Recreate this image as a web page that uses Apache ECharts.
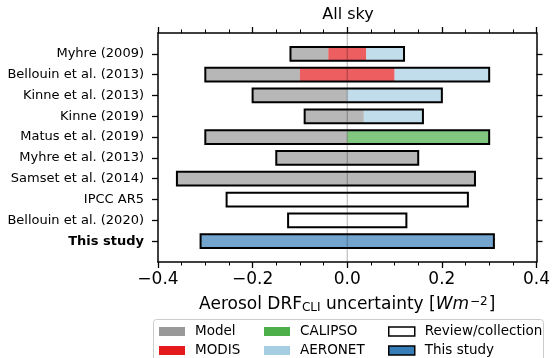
<!DOCTYPE html>
<html>
<head>
<meta charset="utf-8">
<script src="https://cdn.jsdelivr.net/npm/echarts@6/dist/echarts.min.js"></script>
<style>
html,body{margin:0;padding:0;background:#fff;}
#c{width:553px;height:358px;}
</style>
</head>
<body>
<div id="c"></div>
<script>
// ---- data ----
const categories = ['Myhre (2009)', 'Bellouin et al. (2013)', 'Kinne et al. (2013)', 'Kinne (2019)',
  'Matus et al. (2019)', 'Myhre et al. (2013)', 'Samset et al. (2014)', 'IPCC AR5',
  'Bellouin et al. (2020)', 'This study'];
// overall uncertainty range per study
const rangeLow  = [-0.12, -0.30, -0.20, -0.09, -0.30, -0.15, -0.36, -0.255, -0.125, -0.31];
const rangeHigh = [ 0.12,  0.30,  0.20,  0.16,  0.30,  0.15,  0.27,  0.255,  0.125,  0.31];
// contributions: [row, start, end]
const modelSeg   = [[0, -0.12, -0.04], [1, -0.30, -0.10], [2, -0.20, 0.0], [3, -0.09, 0.035],
                    [4, -0.30, 0.0], [5, -0.15, 0.15], [6, -0.36, 0.27]];
const modisSeg   = [[0, -0.04, 0.04], [1, -0.10, 0.10]];
const calipsoSeg = [[4, 0.0, 0.30]];
const aeronetSeg = [[0, 0.04, 0.12], [1, 0.10, 0.30], [2, 0.0, 0.20], [3, 0.035, 0.16]];
const reviewSeg  = [[7, -0.255, 0.255], [8, -0.125, 0.125]];
const studySeg   = [[9, -0.31, 0.31]];
const xTicks = [-0.4, -0.2, 0.0, 0.2, 0.4];

// ---- build ----
const yCats = [''].concat(categories, ['']);
const FONT = 'DejaVu Sans';
const BAR = 0.66;

function toData(seg) { return seg.map(s => [s[0] + 1, s[1], s[2]]); }

function segRender(fill, stroke, lw) {
  return function (params, api) {
    const a = api.coord([api.value(1), api.value(0)]);
    const b = api.coord([api.value(2), api.value(0)]);
    const c1 = api.coord([0, 1]);
    const c2 = api.coord([0, 2]);
    const h = Math.abs(c2[1] - c1[1]) * BAR;
    return {
      type: 'rect',
      shape: { x: a[0], y: a[1] - h / 2, width: b[0] - a[0], height: h },
      style: { fill: fill, stroke: stroke, lineWidth: lw }
    };
  };
}

function segSeries(name, seg, fill, legendColor, z) {
  return {
    type: 'custom', name: name, data: toData(seg),
    encode: { x: [1, 2], y: 0 },
    itemStyle: { color: legendColor },
    renderItem: segRender(fill, 'none', 0),
    z: z, silent: true
  };
}

const rangeData = rangeLow.map((l, i) => [i + 1, l, rangeHigh[i]]);

const legendDefs = [
  { name: 'Model', left: 159, top: 324, color: '#999999', border: null },
  { name: 'MODIS', left: 159, top: 343, color: '#e41a1c', border: null },
  { name: 'CALIPSO', left: 264, top: 324, color: '#4daf4a', border: null },
  { name: 'AERONET', left: 264, top: 343, color: '#a6cee3', border: null },
  { name: 'Review/collection', left: 388, top: 324, color: '#ffffff', border: '#000' },
  { name: 'This study', left: 388, top: 343, color: '#377eb8', border: '#000' }
];

const option = {
  animation: false,
  backgroundColor: '#fff',
  textStyle: { fontFamily: FONT },
  grid: { left: 158, right: 15, top: 33, bottom: 96, containLabel: false },
  xAxis: [{
    type: 'value', min: -0.4, max: 0.4, interval: 0.2, position: 'bottom',
    axisLine: { show: true, onZero: false, lineStyle: { color: '#000', width: 1.5 } },
    axisTick: { show: true, length: 6, lineStyle: { color: '#000', width: 1.3 } },
    minorTick: { show: true, splitNumber: 4, length: 3.5, lineStyle: { color: '#000', width: 1 } },
    splitLine: { show: false },
    axisLabel: {
      fontFamily: FONT, fontSize: 17, color: '#000', margin: 9,
      formatter: v => { const s = Math.abs(v).toFixed(1); return v < -1e-9 ? '\u2212' + s : s; }
    },
    name: '{a|Aerosol DRF}{s|CLI}{a| uncertainty [}{i|Wm}{p|\u22122}{a|]}',
    nameLocation: 'middle', nameGap: 34,
    nameTextStyle: {
      fontFamily: FONT, fontSize: 17, color: '#000',
      rich: {
        a: { fontFamily: FONT, fontSize: 17, color: '#000' },
        s: { fontFamily: FONT, fontSize: 12, color: '#000', verticalAlign: 'bottom', padding: [6, 0, 0, 0] },
        i: { fontFamily: FONT, fontSize: 17, color: '#000', fontStyle: 'italic' },
        p: { fontFamily: FONT, fontSize: 12, color: '#000', verticalAlign: 'top', padding: [0, 1, 6, 1] }
      }
    }
  }, {
    type: 'value', min: -0.4, max: 0.4, interval: 0.2, position: 'top',
    axisLine: { show: true, onZero: false, lineStyle: { color: '#000', width: 1.5 } },
    axisTick: { show: true, length: 6, lineStyle: { color: '#000', width: 1.3 } },
    minorTick: { show: true, splitNumber: 4, length: 3.5, lineStyle: { color: '#000', width: 1 } },
    splitLine: { show: false },
    axisLabel: { show: false }
  }],
  yAxis: [{
    type: 'category', data: yCats, inverse: true, boundaryGap: false, position: 'left',
    axisLine: { show: true, onZero: false, lineStyle: { color: '#000', width: 1.5 } },
    axisTick: { show: true, length: 6, interval: (i, v) => v !== '', lineStyle: { color: '#000', width: 1.3 } },
    splitLine: { show: false },
    axisLabel: {
      interval: 0, fontFamily: FONT, fontSize: 13, color: '#000', margin: 14,
      formatter: v => v === 'This study' ? '{b|' + v + '}' : v,
      rich: { b: { fontFamily: FONT, fontSize: 13, fontWeight: 'bold', color: '#000' } }
    }
  }, {
    type: 'category', data: yCats, inverse: true, boundaryGap: false, position: 'right',
    axisLine: { show: true, onZero: false, lineStyle: { color: '#000', width: 1.5 } },
    axisTick: { show: true, length: 6, interval: (i, v) => v !== '', lineStyle: { color: '#000', width: 1.3 } },
    splitLine: { show: false },
    axisLabel: { show: false }
  }],
  legend: legendDefs.map(d => ({
    left: d.left, top: d.top + 0.5, padding: 0, selectedMode: false,
    itemWidth: 26, itemHeight: 9, orient: 'horizontal',
    textStyle: { fontFamily: FONT, fontSize: 13.5, color: '#000', padding: [0, 0, 0, 5] },
    data: [{ name: d.name, icon: 'rect',
      itemStyle: d.border ? { color: d.color, borderColor: d.border, borderWidth: 1.5 } : { color: d.color, borderWidth: 0 } }]
  })),
  graphic: [
    { type: 'rect', z: -1, shape: { x: 153.5, y: 319.5, width: 390, height: 60, r: 3 },
      style: { fill: 'rgba(255,255,255,0.8)', stroke: '#cccccc', lineWidth: 1 } },
    { type: 'text', x: 348, y: 15, style: { text: 'All sky', fontFamily: FONT, fontSize: 16, fill: '#000', textAlign: 'center', textVerticalAlign: 'middle' } }
  ],
  series: [
    segSeries('Model', modelSeg, 'rgba(153,153,153,0.7)', '#999999', 2),
    segSeries('MODIS', modisSeg, 'rgba(228,26,28,0.7)', '#e41a1c', 2),
    segSeries('CALIPSO', calipsoSeg, 'rgba(77,175,74,0.7)', '#4daf4a', 2),
    segSeries('AERONET', aeronetSeg, 'rgba(166,206,227,0.7)', '#a6cee3', 2),
    segSeries('Review/collection', reviewSeg, '#ffffff', '#ffffff', 2),
    segSeries('This study', studySeg, 'rgba(55,126,184,0.7)', '#377eb8', 2),
    {
      type: 'custom', name: 'outline', data: rangeData,
      encode: { x: [1, 2], y: 0 },
      renderItem: segRender('none', '#000', 2),
      z: 3, silent: true
    },
    {
      type: 'custom', name: 'zeroline', data: [[0, 0]],
      encode: { x: 1, y: 0 },
      renderItem: function (params, api) {
        const p = api.coord([0, 0]);
        const cs = params.coordSys;
        return { type: 'line', shape: { x1: p[0], y1: cs.y, x2: p[0], y2: cs.y + cs.height },
          style: { stroke: 'rgba(0,0,0,0.3)', lineWidth: 1 } };
      },
      z: 4, silent: true
    }
  ]
};

const chart = echarts.init(document.getElementById('c'), null, { renderer: 'canvas' });
chart.setOption(option);
</script>
</body>
</html>
